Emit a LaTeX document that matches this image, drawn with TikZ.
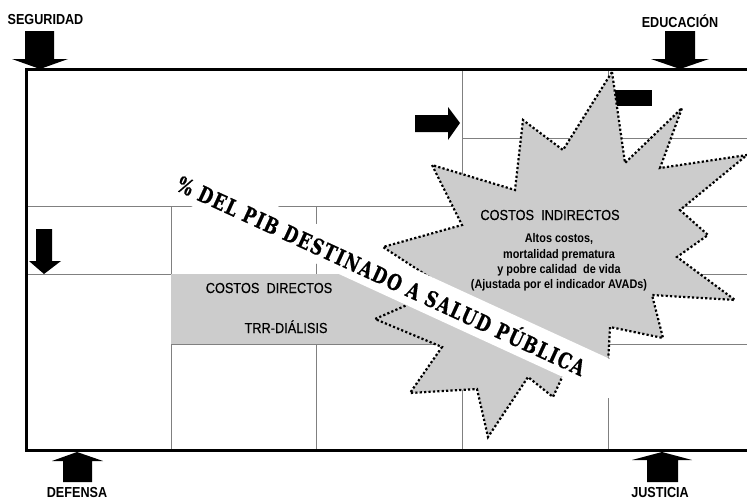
\documentclass[tikz,border=0pt]{standalone}
\usepackage{fontspec}
\setmainfont{Liberation Sans}
\newfontfamily\narrowfont[FakeStretch=0.87]{Liberation Sans}
\newfontfamily\costfont[FakeStretch=0.88, FakeBold=0.4]{Liberation Sans}
\newfontfamily\slabfont[FakeStretch=0.76, LetterSpace=6.5, FakeBold=0.6]{DejaVu Serif}
\definecolor{cellgray}{gray}{0.8}
\definecolor{gridgray}{gray}{0.5}

\tikzstyle{sector} = [font=\narrowfont\bfseries\fontsize{14.5}{16}\selectfont, inner sep=0pt, anchor=base]
\tikzstyle{cost} = [font=\costfont\fontsize{14.5}{16}\selectfont, inner sep=0pt, anchor=base]
\tikzstyle{detail} = [font=\narrowfont\bfseries\fontsize{12.5}{15.3}\selectfont, inner sep=0pt, align=center]
\tikzstyle{cellline} = [draw=gridgray, line width=0.9pt]
\tikzstyle{blockarrow} = [fill=black]
\tikzstyle{starburst} = [fill=cellgray, draw=black, line width=2.2pt, dash pattern=on 2.2pt off 2.2pt, line join=miter]
\tikzstyle{banner} = [fill=white, rotate=-24.7, minimum width=520pt, minimum height=36pt, inner sep=0pt, font=\slabfont\bfseries\fontsize{22}{24}\selectfont]

\begin{document}
\begin{tikzpicture}[x=1pt, y=-1pt]
		\useasboundingbox (0,0) rectangle (747,499);
		% Cells
		\draw[cellline] (26,206) -- (747,206);
		\draw[cellline] (26,274) -- (747,274);
		\draw[cellline] (171,344) -- (747,344);
		\draw[cellline] (462,138) -- (747,138);
		\foreach \x in {171,316} \draw[cellline] (\x,206) -- (\x,450);
		\foreach \x in {462,608} \draw[cellline] (\x,69) -- (\x,450);
		\draw[line width=3pt] (747,69) -- (26,69) -- (26,450) -- (747,450);
		% Direct costs
		\fill[cellgray] (171,274) rectangle (445,344);
		% Arrows
		\fill[blockarrow] (25,31) -- (54,31) -- (54,59) -- (68,59) -- (40,69) -- (12,59) -- (25,59) -- cycle;
		\fill[blockarrow] (665,31) -- (695,31) -- (695,59) -- (709,59) -- (680,69) -- (651,59) -- (665,59) -- cycle;
		\fill[blockarrow] (415,115) -- (448,115) -- (448,107) -- (460,123) -- (448,140) -- (448,132) -- (415,132) -- cycle;
		\fill[blockarrow] (36,229) -- (52,229) -- (52,261) -- (61,261) -- (44,274) -- (29,261) -- (36,261) -- cycle;
		\fill[blockarrow] (63,482) -- (92,482) -- (92,461) -- (103,461) -- (77,452) -- (52,461) -- (63,461) -- cycle;
		\fill[blockarrow] (647,482) -- (678,482) -- (678,460) -- (692,460) -- (662,452) -- (632,460) -- (647,460) -- cycle;
		\fill[blockarrow] (615,90) rectangle (652,106);
		% Indirect costs
		\draw[starburst] (612,72) -- (625,163) -- (682,108) -- (660,168) -- (747,155) -- (680,210)
			-- (708,235) -- (677,257) -- (735,300) -- (652,295) -- (663,338) -- (610,327)
			-- (608,365) -- (570,360) -- (553,397) -- (528,377) -- (488,437) -- (477,389)
			-- (410,393) -- (442,347) -- (375,319) -- (446,288) -- (383,247) -- (462,225)
			-- (432,165) -- (515,190) -- (523,120) -- (563,150) -- cycle;
		\node[banner] (pib) at (382,274) {\% DEL PIB DESTINADO A SALUD PÚBLICA};
		% Nodes
		\node[cost] (direct) at (269,293) {COSTOS~~DIRECTOS};
		\node[cost] (trr) at (286,333) {TRR-DIÁLISIS};
		\node[cost] (indirect) at (550,220) {COSTOS~~INDIRECTOS};
		\node[detail] (effects) at (559,262.7) {Altos costos,\\ mortalidad prematura\\ y pobre calidad~~de vida\\ (Ajustada por el indicador AVADs)};
		\node[sector] (seguridad) at (45.5,24) {SEGURIDAD};
		\node[sector] (educacion) at (680,27) {EDUCACIÓN};
		\node[sector] (defensa) at (77,497) {DEFENSA};
		\node[sector] (justicia) at (660,497) {JUSTICIA};
\end{tikzpicture}
\end{document}
